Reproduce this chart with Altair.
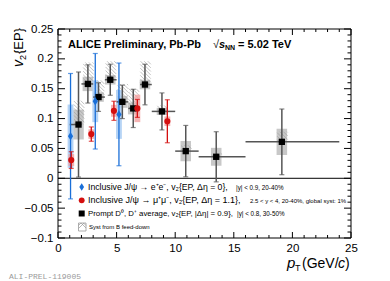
import altair as alt
import pandas as pd
import numpy as np

# ---------------- data ----------------
# Prompt D0, D+ average, 30-50%
d_pt = [1.75, 2.55, 3.46, 4.46, 5.49, 6.42, 7.42, 8.87, 10.9, 13.5, 19.1]
d_lo = [1, 2, 3, 4, 5, 6, 7, 8, 10, 12, 16]
d_hi = [2, 3, 4, 5, 6, 7, 8, 10, 12, 16, 24]
d_v2 = [0.090, 0.158, 0.136, 0.165, 0.128, 0.117, 0.157, 0.112, 0.0455, 0.036, 0.061]
d_stat = [0.088, 0.032, 0.024, 0.026, 0.028, 0.032, 0.034, 0.031, 0.043, 0.042, 0.055]
d_syst = [0.025, 0.012, 0.008, 0.008, 0.010, 0.010, 0.008, 0.006, 0.017, 0.015, 0.022]
d_fd = [0.040, 0.036, 0.028, 0.031, 0.030, 0.033, 0.039, 0.010, 0.010, 0.006, 0.017]

# Inclusive J/psi -> e+e-, |y|<0.9, 20-40%
e_pt = [1.07, 3.18, 5.20]
e_v2 = [0.0705, 0.129, 0.107]
e_stat = [0.105, 0.080, 0.086]
e_syst = [0.053, 0.035, 0.041]

# Inclusive J/psi -> mu+mu-, 2.5<y<4, 20-40%
m_pt = [1.13, 2.84, 4.77, 6.77, 9.33]
m_v2 = [0.0305, 0.074, 0.113, 0.117, 0.0955]
m_stat = [0.014, 0.012, 0.016, 0.015, 0.036]
m_syst = [0.010, 0.008, 0.010, 0.023, 0.008]

x_major = [0, 5, 10, 15, 20, 25]
y_major = [-0.1, -0.05, 0, 0.05, 0.1, 0.15, 0.2, 0.25]

# ---------------- layout ----------------
W, H = 293, 209
OX, OY = 58, 29  # page position of plot origin
xs = alt.Scale(domain=[0, 25], nice=False, zero=False)
ys = alt.Scale(domain=[-0.1, 0.25], nice=False, zero=False)
KX, KY = W / 25.0, H / 0.35

BLUE = "#1a6fd8"
LBLUE = "#a9cdf3"
RED = "#d40f0f"
LRED = "#f3a6a6"
GBOX = "#c2c2c2"
GERR = "#555555"

AX = alt.Axis(values=x_major, ticks=False, domain=False, grid=False,
              labelFontSize=11.5, labelFont="Liberation Sans", labelColor="black",
              labelPadding=4, title=None, labelFlush=False)
AY = alt.Axis(values=y_major, ticks=False, domain=False, grid=False,
              labelFontSize=11.5, labelFont="Liberation Sans", labelColor="black",
              labelPadding=5, title=None, format=".2~f", labelFlush=False)

dD = pd.DataFrame(dict(pt=d_pt, lo=d_lo, hi=d_hi, v2=d_v2, stat=d_stat, syst=d_syst, fd=d_fd))
dD["ylo"] = dD.v2 - dD.stat
dD["yhi"] = dD.v2 + dD.stat
dD["slo"] = dD.v2 - dD.syst
dD["shi"] = dD.v2 + dD.syst
dD["bl"] = dD.pt - 0.45
dD["br"] = dD.pt + 0.45

dE = pd.DataFrame(dict(pt=e_pt, v2=e_v2, stat=e_stat, syst=e_syst))
dM = pd.DataFrame(dict(pt=m_pt, v2=m_v2, stat=m_stat, syst=m_syst))
for d in (dE, dM):
    d["ylo"] = d.v2 - d.stat
    d["yhi"] = d.v2 + d.stat
    d["slo"] = d.v2 - d.syst
    d["shi"] = d.v2 + d.syst
    d["bl"] = d.pt - 0.25
    d["br"] = d.pt + 0.25

# hatch segments for B feed-down boxes ("\" lines), from value to value+fd
segs = []
for _, r in dD.iterrows():
    u0, u1 = (r.pt - 0.4) * KX, (r.pt + 0.5) * KX
    v0, v1 = r.v2 * KY, (r.v2 + r.fd) * KY
    c = u0 + v0 + 2.0
    while c < u1 + v1:
        xa = max(u0, c - v1)
        xb = min(u1, c - v0)
        if xb > xa:
            segs.append(dict(x=xa / KX, y=(c - xa) / KY, x2=xb / KX, y2=(c - xb) / KY))
        c += 3.6
dH = pd.DataFrame(segs)


def X(f):
    return alt.X(f, scale=xs, axis=AX)


def Y(f):
    return alt.Y(f, scale=ys, axis=AY)


layers = []

# frame
layers.append(alt.Chart(pd.DataFrame({"x": [0], "x2": [25], "y": [-0.1], "y2": [0.25]})).mark_rect(
    fill=None, stroke="black", strokeWidth=1
).encode(x=X("x:Q"), x2="x2:Q", y=Y("y:Q"), y2="y2:Q"))

# ticks (inward)
x_minor = [i for i in range(26) if i % 5]
y_minor = [round(v, 2) for v in np.arange(-0.1, 0.2501, 0.01) if abs(round(v * 100) % 5) != 0]


def xt(vals, ln, top):
    y0, y1 = (0, ln) if top else (H, H - ln)
    return alt.Chart(pd.DataFrame({"v": vals})).mark_rule(color="black", strokeWidth=1).encode(
        x=X("v:Q"), y=alt.value(y0), y2=alt.value(y1))


def yt(vals, ln, right):
    x0, x1 = (W, W - ln) if right else (0, ln)
    return alt.Chart(pd.DataFrame({"v": vals})).mark_rule(color="black", strokeWidth=1).encode(
        y=Y("v:Q"), x=alt.value(x0), x2=alt.value(x1))


layers += [xt(x_major, 6, False), xt(x_minor, 3, False), xt(x_major, 6, True), xt(x_minor, 3, True),
           yt(y_major, 7, False), yt(y_minor, 3.5, False), yt(y_major, 7, True), yt(y_minor, 3.5, True)]

# zero line
layers.append(alt.Chart(pd.DataFrame({"y": [0]})).mark_rule(color="black", strokeWidth=1).encode(
    y=Y("y:Q"), x=alt.value(0), x2=alt.value(W)))

# D meson syst boxes
layers.append(alt.Chart(dD).mark_rect(color=GBOX, opacity=0.9).encode(
    x=X("bl:Q"), x2="br:Q", y=Y("slo:Q"), y2="shi:Q"))
# hatch (B feed-down)
layers.append(alt.Chart(dH).mark_rule(color="#9a9a9a", strokeWidth=0.6).encode(
    x=X("x:Q"), x2="x2:Q", y=Y("y:Q"), y2="y2:Q"))

# J/psi syst boxes
layers.append(alt.Chart(dE).mark_rect(color=LBLUE, opacity=0.85).encode(
    x=X("bl:Q"), x2="br:Q", y=Y("slo:Q"), y2="shi:Q"))
layers.append(alt.Chart(dM).mark_rect(color=LRED, opacity=0.85).encode(
    x=X("bl:Q"), x2="br:Q", y=Y("slo:Q"), y2="shi:Q"))

# D error bars
layers.append(alt.Chart(dD).mark_rule(color=GERR, strokeWidth=1.5).encode(
    x=X("pt:Q"), y=Y("ylo:Q"), y2="yhi:Q"))
layers.append(alt.Chart(dD).mark_rule(color=GERR, strokeWidth=1.5).encode(
    x=X("lo:Q"), x2="hi:Q", y=Y("v2:Q")))

# J/psi error bars
layers.append(alt.Chart(dE).mark_rule(color=BLUE, strokeWidth=1.3).encode(
    x=X("pt:Q"), y=Y("ylo:Q"), y2="yhi:Q"))
layers.append(alt.Chart(dE).mark_tick(color=BLUE, thickness=1.2, size=5, orient="horizontal").encode(
    x=X("pt:Q"), y=Y("ylo:Q")))
layers.append(alt.Chart(dE).mark_tick(color=BLUE, thickness=1.2, size=5, orient="horizontal").encode(
    x=X("pt:Q"), y=Y("yhi:Q")))
layers.append(alt.Chart(dM).mark_rule(color=RED, strokeWidth=1.3).encode(
    x=X("pt:Q"), y=Y("ylo:Q"), y2="yhi:Q"))
layers.append(alt.Chart(dM).mark_tick(color=RED, thickness=1.2, size=5, orient="horizontal").encode(
    x=X("pt:Q"), y=Y("ylo:Q")))
layers.append(alt.Chart(dM).mark_tick(color=RED, thickness=1.2, size=5, orient="horizontal").encode(
    x=X("pt:Q"), y=Y("yhi:Q")))
layers.append(alt.Chart(dD).mark_tick(color=GERR, thickness=1.2, size=5, orient="horizontal").encode(
    x=X("pt:Q"), y=Y("ylo:Q")))
layers.append(alt.Chart(dD).mark_tick(color=GERR, thickness=1.2, size=5, orient="horizontal").encode(
    x=X("pt:Q"), y=Y("yhi:Q")))

# markers
DIAMOND = "M0,-1L0.62,0L0,1L-0.62,0Z"
layers.append(alt.Chart(dD).mark_point(shape="square", filled=True, size=40, color="black", opacity=1).encode(
    x=X("pt:Q"), y=Y("v2:Q")))
layers.append(alt.Chart(dE).mark_point(shape=DIAMOND, filled=True, size=70, color=BLUE, opacity=1).encode(
    x=X("pt:Q"), y=Y("v2:Q")))
layers.append(alt.Chart(dM).mark_point(shape="circle", filled=True, size=38, color=RED, opacity=1).encode(
    x=X("pt:Q"), y=Y("v2:Q")))

ONE = pd.DataFrame({"a": [0]})


def txt(s, px, py, size=9, style="normal", weight="normal", align="left", angle=0,
        color="black", font="Liberation Sans", baseline="middle"):
    return alt.Chart(ONE).mark_text(text=s, fontSize=size, fontStyle=style, fontWeight=weight,
                                    align=align, angle=angle, color=color, font=font,
                                    baseline=baseline).encode(
        x=alt.value(px - OX), y=alt.value(py - OY))


# header
layers += [
    txt("ALICE Preliminary, Pb-Pb", 68, 44.5, size=11, weight="bold"),
    txt("\u221a", 213, 44.5, size=11),
    txt("s", 219, 44.5, size=11, style="italic", weight="bold"),
    txt("NN", 225, 47.5, size=7, weight="bold"),
    txt("= 5.02 TeV", 238, 44.5, size=11, weight="bold"),
]

# axis titles
layers += [
    txt("v", 23, 67, size=14, style="italic", angle=270, baseline="alphabetic"),
    txt("2", 26, 60, size=9, angle=270, baseline="alphabetic"),
    txt("{EP}", 23, 54, size=13, angle=270, baseline="alphabetic"),
    txt("p", 287, 267.5, size=15, style="italic", baseline="alphabetic"),
    txt("T", 295, 270.5, size=9, baseline="alphabetic"),
    txt("(GeV/", 302, 267.5, size=14, baseline="alphabetic"),
    txt("c", 338, 267.5, size=14, style="italic", baseline="alphabetic"),
    txt(")", 345, 267.5, size=14, baseline="alphabetic"),
]

# legend
layers.append(alt.Chart(ONE).mark_point(shape=DIAMOND, filled=True, size=60, color=BLUE, opacity=1).encode(
    x=alt.value(81.7 - OX), y=alt.value(187 - OY)))
layers.append(alt.Chart(ONE).mark_point(shape="circle", filled=True, size=34, color=RED, opacity=1).encode(
    x=alt.value(81.7 - OX), y=alt.value(200.3 - OY)))
layers.append(alt.Chart(ONE).mark_point(shape="square", filled=True, size=36, color="black", opacity=1).encode(
    x=alt.value(81.7 - OX), y=alt.value(213.5 - OY)))
layers.append(alt.Chart(ONE).mark_rect(fill="white", stroke="#999999", strokeWidth=0.8).encode(
    x=alt.value(78.5 - OX), x2=alt.value(86 - OX), y=alt.value(223 - OY), y2=alt.value(231 - OY)))
icon = pd.DataFrame(dict(x=[78.5, 78.5, 81.0, 83.5], y=[225.5, 228.5, 223, 223],
                         x2=[81.0, 84.0, 86, 86], y2=[223, 223, 228, 225.5]))
icon[["x", "x2"]] -= OX
icon[["y", "y2"]] -= OY
layers.append(alt.Chart(icon).mark_rule(color="#999999", strokeWidth=0.7).encode(
    x=alt.X("x:Q", scale=None), x2="x2:Q", y=alt.Y("y:Q", scale=None), y2="y2:Q"))

layers += [
    txt("Inclusive J/\u03c8 \u2192 e\u207ae\u207b, v\u2082{EP, \u0394\u03b7 = 0},", 88, 187, size=8.7),
    txt("|y| < 0.9, 20-40%", 236, 187.5, size=6.3),
    txt("Inclusive J/\u03c8 \u2192 \u03bc\u207a\u03bc\u207b, v\u2082{EP, \u0394\u03b7 = 1.1},", 88, 200.3, size=9),
    txt("2.5 < y < 4, 20-40%, global syst: 1%", 250, 200.8, size=6),
    txt("Prompt D\u2070, D\u207a average, v\u2082{EP, |\u0394\u03b7| = 0.9},", 88, 213.5, size=7.8),
    txt("|y| < 0.8, 30-50%", 237, 214, size=6.3),
    txt("Syst from B feed-down", 89, 227, size=6),
    txt("ALI-PREL-119005", 9, 276.5, size=8, color="#9a9a9a", font="Liberation Mono"),
]

chart = alt.layer(*layers).properties(
    width=W, height=H,
    padding={"left": OX - 8, "top": OY - 8, "right": 30, "bottom": 42},
    autosize=alt.AutoSizeParams(type="none"),
    background="white",
).configure_view(stroke=None)

chart.save("out.html", embed_options={"renderer": "svg", "actions": False})
